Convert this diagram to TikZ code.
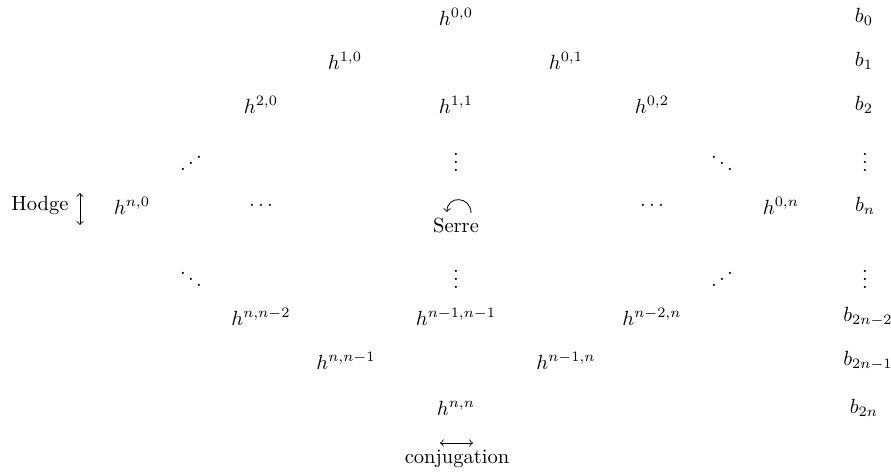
\documentclass[tikz,border=0pt]{standalone}
\usepackage{graphicx}
\begin{document}
\begin{tikzpicture}[x=0.487pt,y=-0.487pt,
  entry/.style={inner sep=0pt,anchor=center},
  lbl/.style={inner sep=0pt,anchor=center},
  tip/.style={line width=0.4pt}]
\useasboundingbox (0,0) rectangle (891,472);
% row 0
\node[entry] (h00) at (456,17) {$h^{0,0}$};
\node[entry] (b0) at (864,17) {$b_0$};
% row 1
\node[entry] (h10) at (345,61) {$h^{1,0}$};
\node[entry] (h01) at (566,61) {$h^{0,1}$};
\node[entry] (b1) at (864,61) {$b_1$};
% row 2
\node[entry] (h20) at (261,105) {$h^{2,0}$};
\node[entry] (h11) at (456,105) {$h^{1,1}$};
\node[entry] (h02) at (652,105) {$h^{0,2}$};
\node[entry] (b2) at (864,105) {$b_2$};
% row 3
\node[entry] (d1) at (191,157) {\reflectbox{$\ddots$}};
\node[entry] (v1) at (456,156) {$\vdots$};
\node[entry] (d2) at (722,157) {$\ddots$};
\node[entry] (v2) at (865,156) {$\vdots$};
% row 4
\node[lbl] (hodge) at (40,205) {Hodge};
\coordinate (ht) at (80,193);
\coordinate (hb) at (80,225);
\draw[tip,<->] (ht) -- (hb);
\node[entry] (hn0) at (132,206) {$h^{n,0}$};
\node[entry] (c1) at (261,206) {$\cdots$};
\node[entry] (c2) at (652,206) {$\cdots$};
\node[entry] (h0n) at (781,206) {$h^{0,n}$};
\node[entry] (bn) at (865,206) {$b_n$};
\coordinate (sa) at (471,213);
\coordinate (sb) at (447,212);
\draw[tip,->] (sa) .. controls (471,196) and (447,195) .. (sb);
\node[lbl] (serre) at (456,225) {Serre};
% row 5
\node[entry] (d3) at (191,273) {$\ddots$};
\node[entry] (v3) at (456,273) {$\vdots$};
\node[entry] (d4) at (722,273) {\reflectbox{$\ddots$}};
\node[entry] (v4) at (865,273) {$\vdots$};
% row 6
\node[entry] (hnn2) at (261,317) {$h^{n,n-2}$};
\node[entry] (hn1n1) at (456,317) {$h^{n-1,n-1}$};
\node[entry] (hn2n) at (652,317) {$h^{n-2,n}$};
\node[entry] (b2n2) at (868,317) {$b_{2n-2}$};
% row 7
\node[entry] (hnn1) at (346,361) {$h^{n,n-1}$};
\node[entry] (hn1n) at (566,361) {$h^{n-1,n}$};
\node[entry] (b2n1) at (868,361) {$b_{2n-1}$};
% row 8
\node[entry] (hnn) at (456,408) {$h^{n,n}$};
\node[entry] (b2n) at (864,408) {$b_{2n}$};
% conjugation
\coordinate (cl) at (440,443);
\coordinate (cr) at (473,443);
\draw[tip,<->] (cl) -- (cr);
\node[lbl] (conj) at (457,459) {conjugation};
\end{tikzpicture}
\end{document}
